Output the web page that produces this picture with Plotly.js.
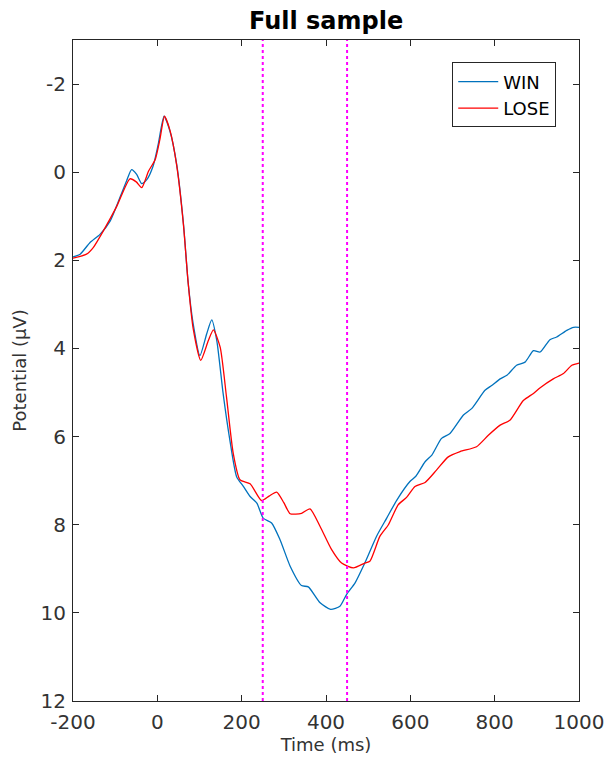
<!DOCTYPE html>
<html>
<head>
<meta charset="utf-8">
<script src="https://cdn.plot.ly/plotly-3.0.1.min.js"></script>
<style>html,body{margin:0;padding:0;background:#fff;}#chart{width:613px;height:758px;}</style>
</head>
<body>
<div id="chart"></div>
<script>
// Time (ms) and potential (µV) for each condition
const winTime = [-200,-183,-160,-136,-112,-89,-73,-61,-49,-37,-25,-10,2,16,30,46,62,73,85,101,117,129,141,156,172,188,204,220,236,251,271,291,315,342,358,386,411,433,449,469,492,520,544,568,599,613,635,651,674,694,726,746,777,793,813,829,852,872,892,908,931,947,971,987,1000];
const winValues = [1.92,1.86,1.60,1.41,1.11,0.58,0.20,-0.06,0.05,0.26,0.17,-0.14,-0.63,-1.27,-0.93,-0.17,1.18,2.50,3.44,4.16,3.67,3.35,3.82,5.02,6.08,6.91,7.13,7.36,7.51,7.85,7.96,8.34,8.94,9.38,9.41,9.77,9.92,9.85,9.58,9.32,8.87,8.26,7.85,7.44,7.02,6.90,6.57,6.42,6.04,5.93,5.51,5.36,4.95,4.84,4.69,4.61,4.38,4.31,4.05,4.08,3.80,3.74,3.59,3.52,3.52];
const loseTime = [-200,-168,-152,-128,-96,-65,-50,-37,-21,-5,6,17,30,46,62,73,85,103,121,133,149,164,180,196,220,247,265,283,300,315,342,362,386,413,437,465,492,504,528,548,571,591,611,635,662,690,718,757,785,813,836,868,892,908,939,963,983,1000];
const loseValues = [1.95,1.86,1.71,1.33,0.77,0.15,0.22,0.35,-0.02,-0.29,-0.74,-1.27,-0.95,-0.15,1.20,2.50,3.55,4.27,3.82,3.58,3.97,5.10,6.38,6.98,7.07,7.45,7.35,7.26,7.50,7.75,7.74,7.64,8.04,8.56,8.87,8.98,8.87,8.83,8.26,8.00,7.55,7.38,7.13,7.04,6.76,6.46,6.34,6.23,5.97,5.74,5.63,5.18,5.02,4.89,4.69,4.57,4.38,4.33];
const seriesNames = ['WIN','LOSE'];
const windowBounds = [250, 450];
const xTicks = [-200,0,200,400,600,800,1000];
const yTicks = [-2,0,2,4,6,8,10,12];

const FONT = 'DejaVu Sans, sans-serif';
const AX = '#262626';
const TXT = '#333333';

const traces = [
  {x: winTime, y: winValues, name: seriesNames[0], type: 'scatter', mode: 'lines',
   line: {color: '#0072BD', width: 1.3, shape: 'spline', smoothing: 0.6}},
  {x: loseTime, y: loseValues, name: seriesNames[1], type: 'scatter', mode: 'lines',
   line: {color: '#FF0000', width: 1.3, shape: 'spline', smoothing: 0.6}}
];

const shapes = windowBounds.map(b => ({
  type: 'line', xref: 'x', yref: 'paper', x0: b, x1: b, y0: 0, y1: 1,
  line: {color: '#FF00FF', width: 2, dash: 'dot'}, layer: 'above'
}));

const layout = {
  width: 613, height: 758,
  margin: {l: 73, r: 34, t: 40, b: 57},
  paper_bgcolor: '#fff', plot_bgcolor: '#fff',
  font: {family: FONT, color: TXT},
  title: {text: '<b>Full sample</b>', font: {family: FONT, size: 24, color: '#000'},
          x: 0.532, xanchor: 'center', y: 0.973, yanchor: 'middle'},
  xaxis: {
    range: [-200, 1000], tickvals: xTicks, ticktext: xTicks.map(String),
    ticks: 'inside', ticklen: 6, tickcolor: AX, tickwidth: 1,
    showline: true, linecolor: AX, linewidth: 1, mirror: 'ticks',
    showgrid: false, zeroline: false, ticklabelstandoff: 3,
    tickfont: {family: FONT, size: 20, color: TXT},
    title: {text: 'Time (ms)', font: {family: FONT, size: 18, color: TXT}, standoff: 0}
  },
  yaxis: {
    range: [12, -3], tickvals: yTicks, ticktext: yTicks.map(String),
    ticks: 'inside', ticklen: 6, tickcolor: AX, tickwidth: 1,
    showline: true, linecolor: AX, linewidth: 1, mirror: 'ticks',
    showgrid: false, zeroline: false, ticklabelstandoff: 2,
    tickfont: {family: FONT, size: 20, color: TXT},
    title: {text: 'Potential (μV)', font: {family: FONT, size: 18, color: TXT}, standoff: 9}
  },
  showlegend: true,
  legend: {x: 0.955, xanchor: 'right', y: 0.966, yanchor: 'top',
           bgcolor: '#fff', bordercolor: AX, borderwidth: 1,
           font: {family: FONT, size: 18, color: '#000'}, itemwidth: 40, tracegroupgap: 0},
  shapes: shapes
};

Plotly.newPlot('chart', traces, layout, {displayModeBar: false, staticPlot: true});
</script>
</body>
</html>
